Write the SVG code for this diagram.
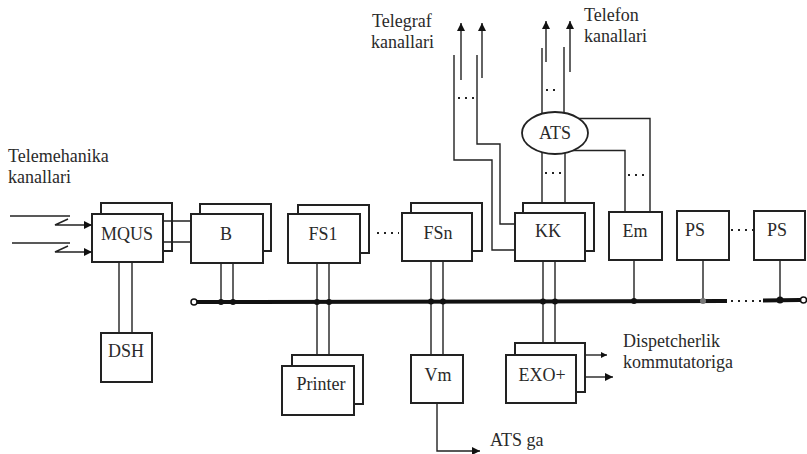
<svg xmlns="http://www.w3.org/2000/svg" width="807" height="454" viewBox="0 0 807 454">
<defs>
<style>
.bx{fill:#fff;stroke:#222;stroke-width:2}
.ln{fill:none;stroke:#222;stroke-width:1.4}
.bus{fill:none;stroke:#111;stroke-width:4}
.dots{fill:none;stroke:#222;stroke-width:2;stroke-dasharray:2 5}
.t{font-size:18px;fill:#2a2a2a}
.c{text-anchor:middle}
.jd{fill:#111}
</style>
<marker id="arr" markerUnits="userSpaceOnUse" viewBox="0 0 10 10" refX="10" refY="5" markerWidth="10" markerHeight="8" orient="auto"><path d="M0,0 L10,5 L0,10 z" fill="#111"/></marker>
<marker id="arrs" markerUnits="userSpaceOnUse" viewBox="0 0 10 10" refX="10" refY="5" markerWidth="7" markerHeight="6" orient="auto"><path d="M0,0 L10,5 L0,10 z" fill="#111"/></marker>
</defs>
<rect width="807" height="454" fill="#fff"/>
<g font-family="'Liberation Serif', 'DejaVu Serif', serif">
<g id="labels">
<text class="t" x="8" y="162">Telemehanika</text>
<text class="t" x="8" y="183">kanallari</text>
<text class="t" x="372" y="27">Telegraf</text>
<text class="t" x="371" y="48">kanallari</text>
<text class="t" x="584" y="21">Telefon</text>
<text class="t" x="584" y="42">kanallari</text>
<text class="t" x="623" y="347">Dispetcherlik</text>
<text class="t" x="623" y="368">kommutatoriga</text>
<text class="t" x="490" y="446">ATS ga</text>
</g>

<g id="node-MQUS"><rect class="bx" x="101" y="203" width="71" height="48"/><rect class="bx" x="92" y="214" width="71" height="48"/><text class="t c" x="127" y="240">MQUS</text></g>
<g id="node-B"><rect class="bx" x="200" y="204" width="71" height="47"/><rect class="bx" x="191" y="214" width="72" height="49"/><text class="t c" x="226" y="240">B</text></g>
<g id="node-FS1"><rect class="bx" x="298" y="205" width="71" height="48"/><rect class="bx" x="288" y="214" width="72" height="49"/><text class="t c" x="323" y="240">FS1</text></g>
<g id="node-FSn"><rect class="bx" x="411" y="203" width="71" height="48"/><rect class="bx" x="402" y="213" width="70" height="48"/><text class="t c" x="438" y="239">FSn</text></g>
<g id="node-KK"><rect class="bx" x="523" y="203" width="71" height="48"/><rect class="bx" x="515" y="213" width="70" height="48"/><text class="t c" x="548" y="237">KK</text></g>
<g id="node-Em"><rect class="bx" x="609" y="212" width="53" height="48"/><text class="t c" x="635" y="237">Em</text></g>
<g id="node-PS1"><rect class="bx" x="677" y="211" width="52" height="49"/><text class="t c" x="695" y="236">PS</text></g>
<g id="node-PS2"><rect class="bx" x="754" y="211" width="51" height="49"/><text class="t c" x="777" y="236">PS</text></g>
<g id="node-DSH"><rect class="bx" x="101" y="333" width="51" height="49"/><text class="t c" x="126" y="357">DSH</text></g>
<g id="node-Printer"><rect class="bx" x="292" y="355" width="71" height="49"/><rect class="bx" x="282" y="366" width="72" height="49"/><text class="t c" x="321" y="390">Printer</text></g>
<g id="node-Vm"><rect class="bx" x="411" y="355" width="52" height="48"/><text class="t c" x="438" y="381">Vm</text></g>
<g id="node-EXO"><rect class="bx" x="515" y="343" width="70" height="49"/><rect class="bx" x="506" y="355" width="70" height="48"/><text class="t c" x="542" y="381">EXO+</text></g>

<g id="connectors">
<path class="ln" d="M10,216 H70"/>
<path class="ln" d="M68,219 L55,225 H92" marker-end="url(#arr)"/>
<path class="ln" d="M12,243 H70"/>
<path class="ln" d="M68,246 L55,252 H92" marker-end="url(#arr)"/>
<path class="ln" d="M163,221 H191 M163,242 H191"/>
<path class="ln" d="M119,262 V333 M132,262 V333"/>
<circle cx="194" cy="302" r="3" fill="#fff" stroke="#111" stroke-width="1.5"/>
<path class="bus" d="M197,302 L727,301"/>
<path class="dots" d="M731,301 H762" stroke-width="3"/>
<path class="bus" d="M763,300.5 L800,300"/>
<circle cx="803.5" cy="300" r="3" fill="#fff" stroke="#111" stroke-width="1.5"/>
<path class="ln" d="M221,263 V302 M233,263 V302"/>
<path class="ln" d="M317,263 V355 M329,263 V355"/>
<path class="ln" d="M431,261 V355 M443,261 V355"/>
<path class="ln" d="M543,261 V343 M555,261 V343"/>
<path class="ln" d="M634,260 V301 M703,260 V301 M780,260 V300"/>
<g class="jd">
<circle cx="221" cy="302" r="3"/><circle cx="233" cy="302" r="3"/>
<circle cx="317" cy="302" r="3"/><circle cx="329" cy="302" r="3"/>
<circle cx="431" cy="301.5" r="3"/><circle cx="443" cy="301.5" r="3"/>
<circle cx="543" cy="301.5" r="3"/><circle cx="555" cy="301.5" r="3"/>
<circle cx="634" cy="301" r="3"/><circle cx="703" cy="301" r="3" fill="#777"/><circle cx="780" cy="300" r="3.5"/>
</g>
<path class="dots" d="M377,233 H399"/>
<path class="dots" d="M731,230 H754"/>
<path class="ln" d="M437,403 V451 H480" marker-end="url(#arr)"/>
<path class="ln" d="M585,355 H607" marker-end="url(#arrs)"/>
<path class="ln" d="M585,377 H613" marker-end="url(#arr)"/>
<path class="ln" d="M461,80 V23" marker-end="url(#arr)"/>
<path class="ln" d="M482,78 V23" marker-end="url(#arr)"/>
<path class="ln" d="M454,55 V160 H492 V250 H515"/>
<path class="ln" d="M477,55 V144 H500 V224 H515"/>
<path class="dots" d="M458,98 H474"/>
<path class="ln" d="M546,62 V21" marker-end="url(#arr)"/>
<path class="ln" d="M570,72 V21" marker-end="url(#arr)"/>
<path class="ln" d="M542,48 V120 M564,47 V120"/>
<path class="dots" d="M546,90 H560"/>
<path class="ln" d="M542,145 V203 M565,145 V203"/>
<path class="dots" d="M545,173 H563"/>
<path class="ln" d="M570,118.5 H650 V212"/>
<path class="ln" d="M570,150.5 H625 V212"/>
<path class="dots" d="M628,175 H648"/>
</g>

<g id="node-ATS"><ellipse cx="555" cy="133" rx="33" ry="21" fill="#fff" stroke="#222" stroke-width="1.8"/><text class="t c" x="555" y="139">ATS</text></g>
</g>
</svg>
